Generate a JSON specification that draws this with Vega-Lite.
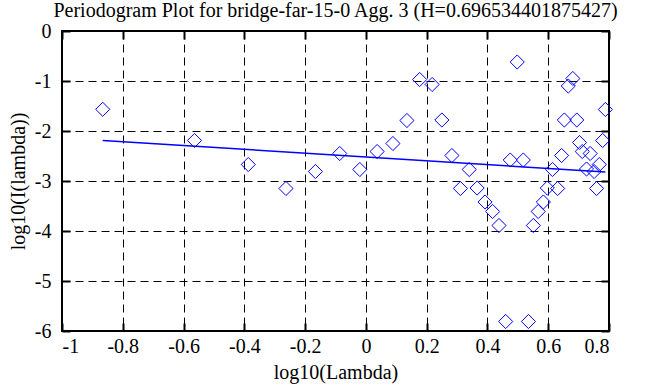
{
  "$schema": "https://vega.github.io/schema/vega-lite/v6.json",
  "autosize": "none",
  "width": 547,
  "height": 300,
  "padding": {"left": 62, "top": 31, "right": 59, "bottom": 56},
  "background": "white",
  "title": {"text": "Periodogram Plot for bridge-far-15-0 Agg. 3 (H=0.696534401875427)", "font": "Liberation Serif", "fontSize": 20, "fontWeight": "normal", "color": "black", "anchor": "middle", "baseline": "top", "offset": 0},
  "config": {
    "view": {"stroke": "black", "strokeWidth": 2},
    "axis": {"labelFont": "Liberation Serif", "titleFont": "Liberation Serif", "labelFontSize": 20, "titleFontSize": 20, "titleFontWeight": "normal", "labelColor": "black", "titleColor": "black", "gridColor": "black", "gridDash": [8, 5], "gridWidth": 1, "gridOpacity": 1, "domain": false, "tickColor": "black", "tickWidth": 2, "tickSize": -8}
  },
  "datasets": {
    "pts": [
      {"x": -0.866, "y": -1.566}, {"x": -0.564, "y": -2.19}, {"x": -0.387, "y": -2.67}, {"x": -0.263, "y": -3.15},
      {"x": -0.166, "y": -2.81}, {"x": -0.086, "y": -2.45}, {"x": -0.02, "y": -2.77}, {"x": 0.037, "y": -2.41},
      {"x": 0.089, "y": -2.25}, {"x": 0.135, "y": -1.79}, {"x": 0.177, "y": -0.97}, {"x": 0.218, "y": -1.07},
      {"x": 0.25, "y": -1.78}, {"x": 0.283, "y": -2.49}, {"x": 0.311, "y": -3.15}, {"x": 0.34, "y": -2.77},
      {"x": 0.366, "y": -3.14}, {"x": 0.392, "y": -3.42}, {"x": 0.417, "y": -3.61}, {"x": 0.438, "y": -3.89},
      {"x": 0.46, "y": -5.81}, {"x": 0.475, "y": -2.58}, {"x": 0.498, "y": -0.62}, {"x": 0.518, "y": -2.58},
      {"x": 0.535, "y": -5.81}, {"x": 0.551, "y": -3.89}, {"x": 0.567, "y": -3.61}, {"x": 0.584, "y": -3.42},
      {"x": 0.597, "y": -3.14}, {"x": 0.614, "y": -2.77}, {"x": 0.631, "y": -3.15}, {"x": 0.644, "y": -2.49},
      {"x": 0.653, "y": -1.78}, {"x": 0.666, "y": -1.1}, {"x": 0.681, "y": -0.95}, {"x": 0.694, "y": -1.78},
      {"x": 0.703, "y": -2.23}, {"x": 0.712, "y": -2.41}, {"x": 0.726, "y": -2.76}, {"x": 0.738, "y": -2.45},
      {"x": 0.751, "y": -2.81}, {"x": 0.759, "y": -3.15}, {"x": 0.768, "y": -2.67}, {"x": 0.779, "y": -2.19},
      {"x": 0.788, "y": -1.57}
    ],
    "fit": [{"x": -0.866, "y": -2.19}, {"x": 0.788, "y": -2.82}]
  },
  "layer": [
    {
      "data": {"name": "pts"},
      "mark": {"type": "point", "shape": "diamond", "size": 200, "filled": false, "color": "#0000ff", "strokeWidth": 1, "opacity": 1},
      "encoding": {
        "x": {"field": "x", "type": "quantitative", "scale": {"domain": [-1, 0.8], "nice": false, "zero": false}, "axis": {"title": "log10(Lambda)", "values": [-1, -0.8, -0.6, -0.4, -0.2, 0, 0.2, 0.4, 0.6, 0.8], "labelExpr": "datum.value == 0 ? '0' : (datum.value < 0 ? '-' + format(-datum.value, '') : format(datum.value, ''))", "labelFont": "Liberation Serif", "labelFontSize": 20, "labelPadding": 13, "titlePadding": 6, "grid": true}},
        "y": {"field": "y", "type": "quantitative", "scale": {"domain": [-6, 0], "nice": false, "zero": false}, "axis": {"title": "log10(I(lambda))", "values": [-6, -5, -4, -3, -2, -1, 0], "labelExpr": "datum.value == 0 ? '0' : (datum.value < 0 ? '-' + format(-datum.value, '') : format(datum.value, ''))", "labelFont": "Liberation Serif", "labelFontSize": 20, "labelPadding": 19, "titlePadding": 6, "grid": true}}
      }
    },
    {
      "data": {"name": "fit"},
      "mark": {"type": "line", "color": "#0000ff", "strokeWidth": 1.5},
      "encoding": {
        "x": {"field": "x", "type": "quantitative", "axis": {"orient": "top", "labels": false, "title": null, "grid": false, "values": [-1, -0.8, -0.6, -0.4, -0.2, 0, 0.2, 0.4, 0.6, 0.8]}},
        "y": {"field": "y", "type": "quantitative", "axis": {"orient": "right", "labels": false, "title": null, "grid": false, "values": [-6, -5, -4, -3, -2, -1, 0]}}
      }
    }
  ],
  "resolve": {"axis": {"x": "independent", "y": "independent"}}
}
